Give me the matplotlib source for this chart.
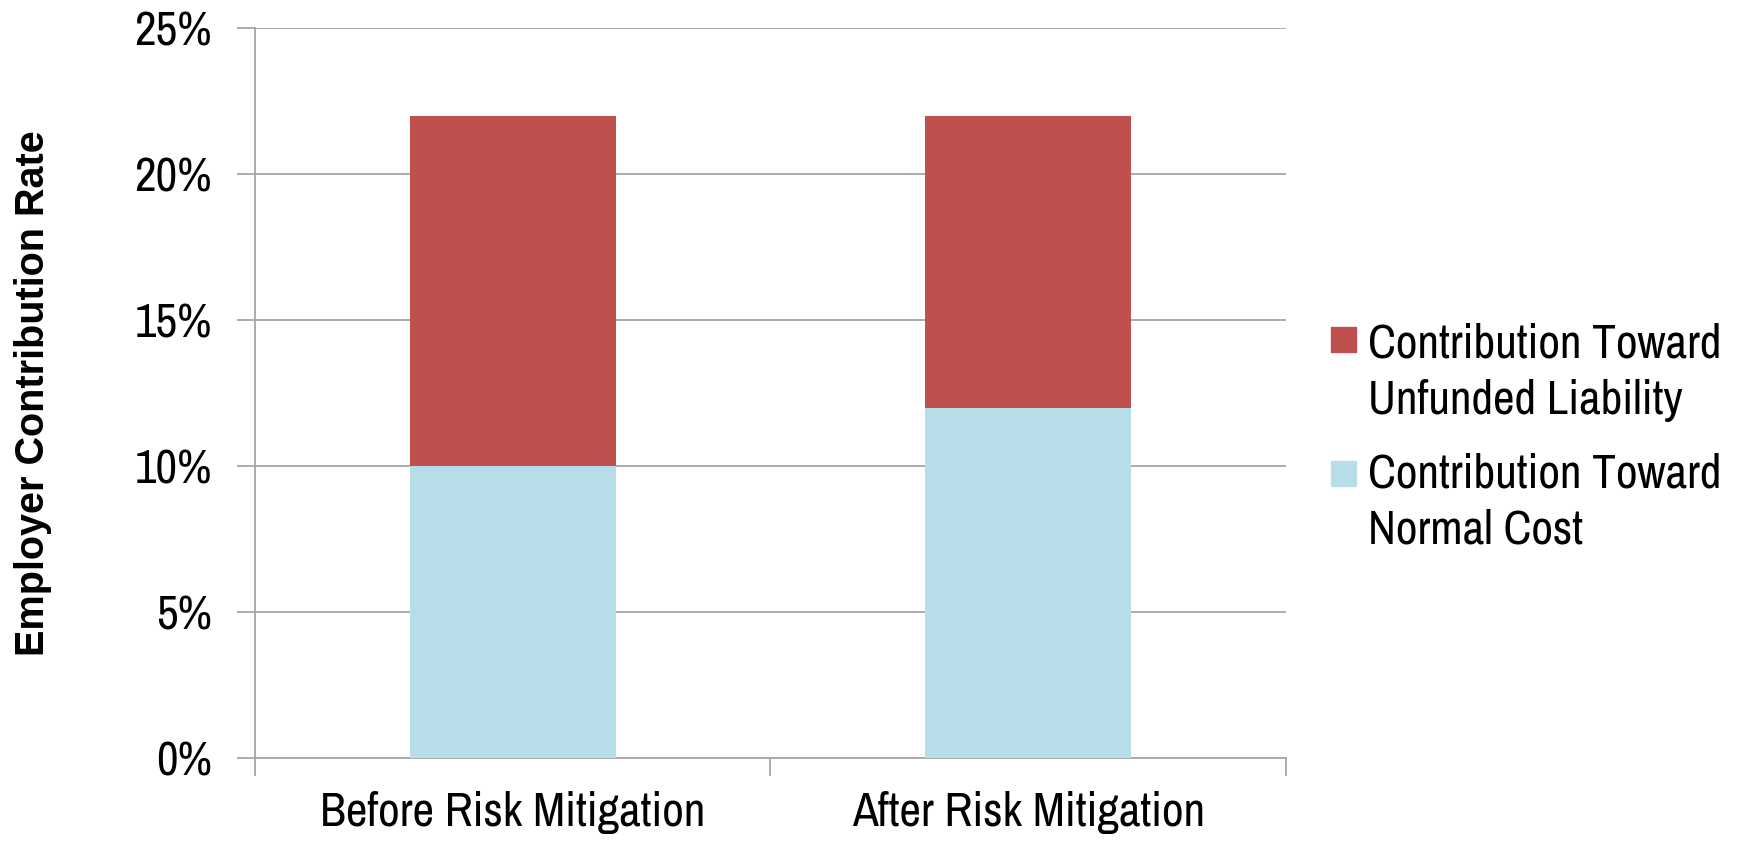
import matplotlib
matplotlib.use("Agg")
import matplotlib.pyplot as plt
from matplotlib.patches import Rectangle
from matplotlib.ticker import FixedLocator, PercentFormatter

# stacked contribution rates, in percent of payroll
categories = ["Before Risk Mitigation", "After Risk Mitigation"]
normal_cost = [10, 12]
unfunded_liability = [12, 10]
series_labels = ["Contribution Toward\nUnfunded Liability", "Contribution Toward\nNormal Cost"]

RED = "#C0504D"
BLUE = "#B7DEE8"
GRID = "#A6A6A6"
NARROW = ["Archivo Narrow", "Liberation Sans"]

fig = plt.figure(figsize=(17.4, 8.42), dpi=100)
W, H = 1740, 842
ax = fig.add_axes([255 / W, (H - 758) / H, 1031 / W, 730 / H])

x = list(range(len(categories)))
ax.bar(x, normal_cost, width=0.4, color=BLUE, zorder=3)
ax.bar(x, unfunded_liability, width=0.4, bottom=normal_cost, color=RED, zorder=3)

ax.set_xlim(-0.5, len(categories) - 0.5)
ax.set_ylim(0, 25)
ax.set_yticks(range(0, 26, 5))
ax.yaxis.set_major_formatter(PercentFormatter(decimals=0))
ax.yaxis.grid(True, color=GRID, linewidth=1.3, zorder=0)

ax.set_xticks(x)
ax.set_xticklabels(categories)
ax.xaxis.set_minor_locator(FixedLocator([-0.5, 0.5, 1.5]))
ax.tick_params(axis="x", which="major", length=0, pad=24)
ax.tick_params(axis="x", which="minor", length=13, width=1.3, color=GRID)
ax.tick_params(axis="y", length=13, width=1.3, color=GRID, pad=18)

for lbl in ax.get_xticklabels() + ax.get_yticklabels():
    lbl.set_fontfamily(NARROW)
    lbl.set_fontsize(34)

for side in ["top", "right"]:
    ax.spines[side].set_visible(False)
for side in ["left", "bottom"]:
    ax.spines[side].set_color(GRID)
    ax.spines[side].set_linewidth(1.3)

fig.text(33 / W, (H - 393) / H, "Employer Contribution Rate", rotation=90,
         fontsize=28.5, fontweight="bold", family="Liberation Sans",
         ha="center", va="center")

# legend drawn by hand so the swatch sits beside the first line of each label
# (swatch centre, baseline of the last label line) in pixels from the top
legend_rows = [(RED, series_labels[0], 340, 414), (BLUE, series_labels[1], 474, 544)]
for color, text, swatch_y, last_baseline in legend_rows:
    fig.add_artist(Rectangle((1331 / W, (H - swatch_y - 12) / H), 25 / W, 25 / H,
                             transform=fig.transFigure, color=color))
    fig.text(1368 / W, (H - last_baseline) / H, text, fontsize=34, family=NARROW,
             ha="left", va="baseline", linespacing=1.4)

fig.savefig("out.png", dpi=100)
